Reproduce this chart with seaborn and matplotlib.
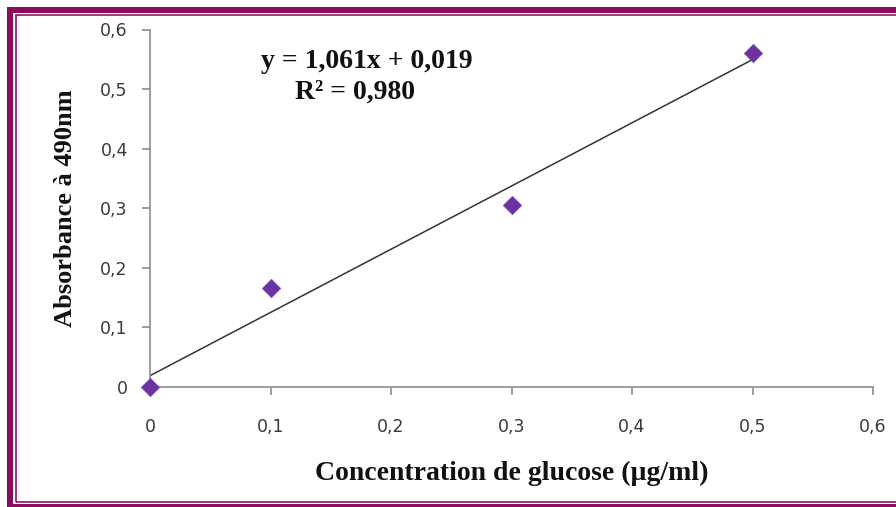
import numpy as np
import pandas as pd
import matplotlib
matplotlib.use("Agg")
import matplotlib.pyplot as plt
from matplotlib.patches import Rectangle
import seaborn as sns

# Standard curve data
concentration = [0.0, 0.1, 0.3, 0.5]
absorbance = [0.0, 0.166, 0.305, 0.560]

# Linear trendline coefficients
slope = 1.061
intercept = 0.019
r_squared = 0.980

x_ticks = [0, 0.1, 0.2, 0.3, 0.4, 0.5, 0.6]
y_ticks = [0, 0.1, 0.2, 0.3, 0.4, 0.5, 0.6]

sns.set_theme(style="white")
plt.rcParams["font.family"] = ["DejaVu Sans"]

W, H = 896, 507
fig = plt.figure(figsize=(W / 100, H / 100), dpi=100)
fig.patch.set_facecolor("white")

# axes placement in pixels
ax_l, ax_r, ax_t, ax_b = 150, 873, 29.5, 387
ax = fig.add_axes([ax_l / W, 1 - ax_b / H, (ax_r - ax_l) / W, (ax_b - ax_t) / H])

df = pd.DataFrame({"x": concentration, "y": absorbance})
fit_x = np.array([min(concentration), max(concentration)])
fit = pd.DataFrame({"x": fit_x, "y": slope * fit_x + intercept})

sns.lineplot(data=fit, x="x", y="y", ax=ax, color="#333333", linewidth=1.1, zorder=2)
sns.scatterplot(data=df, x="x", y="y", ax=ax, marker="D", s=90,
                color="#7030A0", edgecolor="#6a5acd", linewidth=0.4, zorder=3,
                clip_on=False)

ax.set_xlim(0, 0.6)
ax.set_ylim(0, 0.6)
ax.set_xticks(x_ticks)
ax.set_yticks(y_ticks)
fmt = lambda v: "0" if v == 0 else f"{v:.1f}".replace(".", ",")
ax.set_xticklabels([fmt(v) for v in x_ticks])
ax.set_yticklabels([fmt(v) for v in y_ticks])

for side in ("top", "right"):
    ax.spines[side].set_visible(False)
for side in ("left", "bottom"):
    ax.spines[side].set_color("#8c8c8c")
    ax.spines[side].set_linewidth(1.2)

ax.tick_params(axis="both", which="major", direction="out", length=6,
               width=1.2, color="#8c8c8c", labelsize=12.5, labelcolor="#3a3a3a")
ax.tick_params(axis="x", pad=16, bottom=True)
ax.tick_params(axis="y", pad=10, left=True)
ax.grid(False)

serif = ["Liberation Serif", "DejaVu Serif"]
ax.set_xlabel("Concentration de glucose (µg/ml)", fontfamily=serif,
              fontweight="bold", fontsize=20, color="#111111", labelpad=18)
ax.set_ylabel("Absorbance à 490nm", fontfamily=serif,
              fontweight="bold", fontsize=19, color="#111111", labelpad=17)

eq = f"y = {slope:.3f}x + {intercept:.3f}".replace(".", ",")
r2 = f"R² = {r_squared:.3f}".replace(".", ",")
ax.text(0.180, 0.547, eq, fontfamily=serif, fontweight="bold", fontsize=20,
        color="#111111", ha="center", va="center")
ax.text(0.170, 0.495, r2, fontfamily=serif, fontweight="bold", fontsize=20,
        color="#111111", ha="center", va="center")

# decorative double frame around the chart
frame_color = "#8A0C5E"
def px_rect(x0, y0, x1, y1, lw):
    return Rectangle((x0 / W, 1 - y1 / H), (x1 - x0) / W, (y1 - y0) / H,
                     transform=fig.transFigure, fill=False,
                     edgecolor=frame_color, linewidth=lw, clip_on=False)

fig.add_artist(px_rect(10, 9.8, 910, 506.5, 6.0 * 0.72))
fig.add_artist(px_rect(15.6, 14.6, 905, 502.4, 1.6 * 0.72))

fig.savefig("out.png", dpi=100, facecolor="white")
